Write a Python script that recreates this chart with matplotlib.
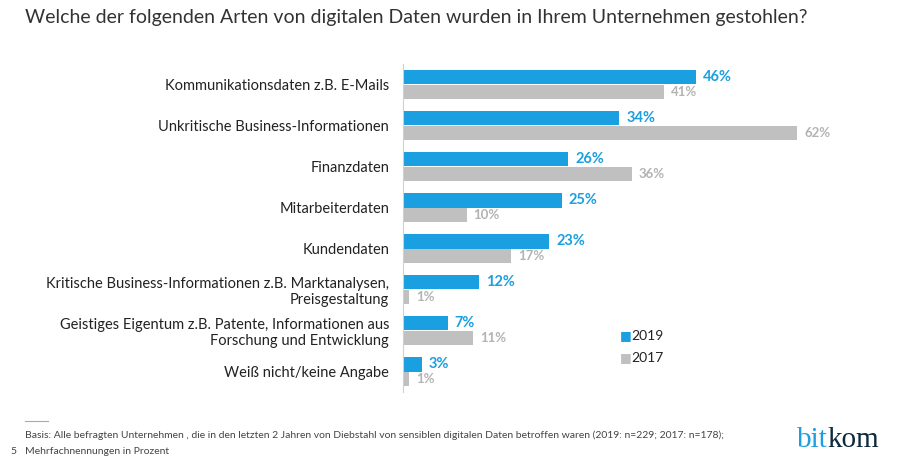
import numpy as np
import matplotlib.pyplot as plt

categories = [
    "Kommunikationsdaten z.B. E-Mails",
    "Unkritische Business-Informationen",
    "Finanzdaten",
    "Mitarbeiterdaten",
    "Kundendaten",
    "Kritische Business-Informationen z.B. Marktanalysen,\nPreisgestaltung",
    "Geistiges Eigentum z.B. Patente, Informationen aus\nForschung und Entwicklung",
    "Weiß nicht/keine Angabe",
]
values_2019 = [46, 34, 26, 25, 23, 12, 7, 3]
values_2017 = [41, 62, 36, 10, 17, 1, 11, 1]
years = ["2019", "2017"]

blue = "#1a9fe0"
grey = "#c0c0c0"
grey_txt = "#b3b3b3"
navy = "#0f2a3d"

plt.rcParams['font.family'] = ['Lato', 'DejaVu Sans']

fig = plt.figure(figsize=(9.22, 4.58), dpi=100)
ax = fig.add_axes([403 / 922, 1 - 392 / 458, 477 / 922, 328 / 458])

y = np.arange(len(categories))
h = 0.35
ax.barh(y - h / 2, values_2019, height=h, color=blue, label=years[0])
ax.barh(y + h / 2, values_2017, height=h, color=grey, label=years[1])

for i, (a, b) in enumerate(zip(values_2019, values_2017)):
    ax.text(a + 1.1, i - h / 2, f"{a}%", va="center", ha="left",
            color=blue, fontsize=10.5, fontweight="bold")
    ax.text(b + 1.1, i + h / 2, f"{b}%", va="center", ha="left",
            color=grey_txt, fontsize=9.5, fontweight="bold")

ax.set_xlim(0, 75)
ax.set_ylim(len(categories) - 0.5, -0.5)
ax.set_xticks([])
ax.set_yticks(y)
ax.set_yticklabels(categories, fontsize=10.5, color="#222222", linespacing=1.15)
ax.tick_params(axis="y", length=0, pad=10)
for lbl in ax.get_yticklabels():
    lbl.set_horizontalalignment("right")
    lbl.set_multialignment("right")
for s in ["top", "right", "bottom"]:
    ax.spines[s].set_visible(False)
ax.spines["left"].set_color("#d0d0d0")
ax.spines["left"].set_linewidth(0.8)

# legend
fig.text(620 / 922, 1 - 336 / 458, "\u25a0", color=blue, fontsize=9,
         va="center", ha="left", family="DejaVu Sans")
fig.text(631 / 922, 1 - 336 / 458, "2019", color="#222222", fontsize=10,
         va="center", ha="left")
fig.text(620 / 922, 1 - 358 / 458, "\u25a0", color=grey, fontsize=9,
         va="center", ha="left", family="DejaVu Sans")
fig.text(631 / 922, 1 - 358 / 458, "2017", color="#222222", fontsize=10,
         va="center", ha="left")

fig.text(25 / 922, 1 - 17 / 458,
         "Welche der folgenden Arten von digitalen Daten wurden in Ihrem Unternehmen gestohlen?",
         fontsize=14, color="#333333", va="center", ha="left")

# footnote
fig.add_artist(plt.Line2D([25 / 922, 48 / 922], [1 - 421 / 458, 1 - 421 / 458],
                          color="#aaaaaa", lw=0.8))
fig.text(25 / 922, 1 - 435 / 458,
         "Basis: Alle befragten Unternehmen , die in den letzten 2 Jahren von Diebstahl von sensiblen "
         "digitalen Daten betroffen waren (2019: n=229; 2017: n=178);",
         fontsize=7.5, color="#444444", va="center", ha="left")
fig.text(25 / 922, 1 - 451 / 458, "Mehrfachnennungen in Prozent",
         fontsize=7.5, color="#444444", va="center", ha="left")
fig.text(10 / 922, 1 - 452 / 458, "5", fontsize=7.5, color="#444444",
         va="center", ha="left")

# logo
t1 = fig.text(797 / 922, 1 - 440 / 458, "bit", fontsize=21, color=blue,
              family="Liberation Serif", va="center", ha="left")
fig.canvas.draw()
bb = t1.get_window_extent()
fig.text(bb.x1 / 922, 1 - 440 / 458, "kom", fontsize=21, color=navy,
         family="Liberation Serif", va="center", ha="left")

fig.savefig("out.png", dpi=100)
